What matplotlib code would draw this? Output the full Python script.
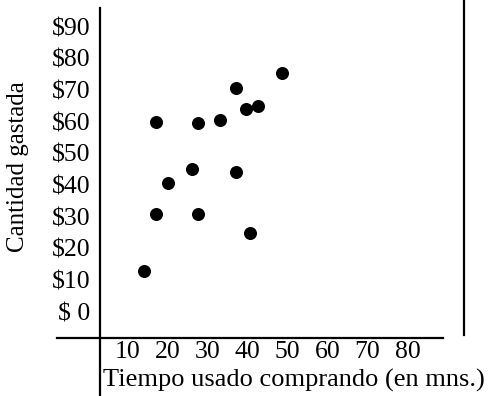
import matplotlib
matplotlib.use("Agg")
import matplotlib.pyplot as plt

# Data (minutes, dollars)
tiempo = [17, 27.5, 33, 37, 39.5, 42.5, 48.5, 20, 26, 37, 17, 27.5, 40.5, 14]
gasto = [60, 59.5, 60.5, 70.5, 64, 65, 75.5, 40.5, 45, 44, 31, 31, 25, 13]

x_ticks = [10, 20, 30, 40, 50, 60, 70, 80]
x_tick_labels = ["10", "20", "30", "40", "50", "60", "70", "80"]
y_ticks = [0, 10, 20, 30, 40, 50, 60, 70, 80, 90]
y_tick_labels = ["$ 0", "$10", "$20", "$30", "$40", "$50", "$60", "$70", "$80", "$90"]

W, H = 488, 396
fig = plt.figure(figsize=(W / 100, H / 100), dpi=100)
plt.rcParams["font.family"] = ["Liberation Serif", "DejaVu Serif"]
FS = 18.5

def px(x0, y0, w, h):
    return [x0 / W, 1 - (y0 + h) / H, w / W, h / H]

ax = fig.add_axes(px(100, 0, 364, 338))
ax.set_xlim(3.125, 94.125)
ax.set_ylim(-8.3, 98.4)
for s in ax.spines.values():
    s.set_visible(False)

ax.scatter(tiempo, gasto, s=70, color="black", zorder=3, clip_on=False)

ax.set_xticks(x_ticks)
ax.set_xticklabels(x_tick_labels, fontsize=FS)
ax.set_yticks(y_ticks)
ax.set_yticklabels(y_tick_labels, fontsize=FS)
ax.tick_params(axis="both", length=0)
ax.tick_params(axis="x", pad=2.5)
ax.tick_params(axis="y", pad=7)

# Drawn frame lines (figure pixel coords)
def fline(xs, ys):
    fig.add_artist(plt.Line2D([x / W for x in xs], [1 - y / H for y in ys],
                              color="black", lw=1.6, transform=fig.transFigure))

fline([100, 100], [8, 396])
fline([57, 443], [338, 338])
fline([464, 464], [0, 335])

fig.text(103 / W, 1 - 387 / H, "Tiempo usado comprando (en mns.)", fontsize=19,
         ha="left", va="baseline")
fig.text(18 / W, 1 - 167 / H, "Cantidad gastada", fontsize=18, rotation=90,
         ha="center", va="center")

fig.savefig("out.png", dpi=100)
